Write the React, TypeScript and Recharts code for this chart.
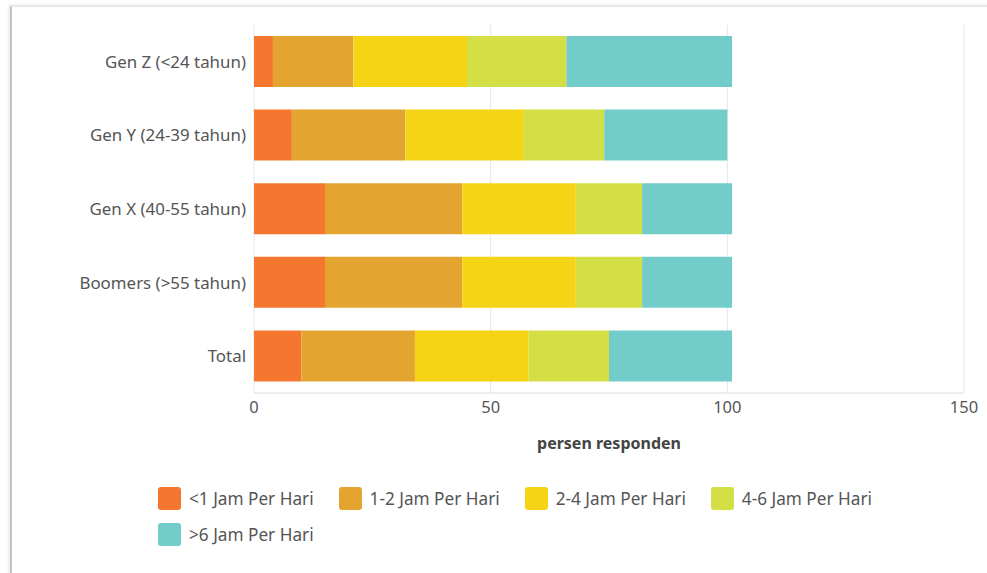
import { Bar, BarChart, CartesianGrid, Legend, XAxis, YAxis } from "recharts";

const categories = ["Gen Z (<24 tahun)", "Gen Y (24-39 tahun)", "Gen X (40-55 tahun)", "Boomers (>55 tahun)", "Total"];
const seriesNames = ["<1 Jam Per Hari", "1-2 Jam Per Hari", "2-4 Jam Per Hari", "4-6 Jam Per Hari", ">6 Jam Per Hari"];
const lessThan1 = [4, 8, 15, 15, 10];
const oneToTwo = [17, 24, 29, 29, 24];
const twoToFour = [24, 25, 24, 24, 24];
const fourToSix = [21, 17, 14, 14, 17];
const moreThan6 = [35, 26, 19, 19, 26];
const xTicks = [0, 50, 100, 150];
const colors = ["#F5772F", "#E3A52F", "#F5D415", "#D3DF45", "#72CDCA"];

const seriesValues = [lessThan1, oneToTwo, twoToFour, fourToSix, moreThan6];
const data = categories.map((name, i) => {
  const row: Record<string, string | number> = { name };
  seriesNames.forEach((s, j) => (row[s] = seriesValues[j][i]));
  return row;
});

const font = "'Noto Sans', 'Open Sans', sans-serif";

function LegendBox({ payload }: any) {
  const items = [...(payload || [])].sort(
    (a: any, b: any) => seriesNames.indexOf(a.value) - seriesNames.indexOf(b.value)
  );
  return (
    <div style={{ display: "flex", flexWrap: "wrap", columnGap: 25, rowGap: 13, fontFamily: font }}>
      {items.map((p: any) => (
        <div key={p.value} style={{ display: "flex", alignItems: "center", height: 23 }}>
          <span style={{ width: 23, height: 23, borderRadius: 3, background: p.color, marginRight: 8 }} />
          <span style={{ fontSize: 17.2, color: "#555" }}>{p.value}</span>
        </div>
      ))}
    </div>
  );
}

export default function App() {
  return (
    <div style={{ position: "fixed", left: 0, top: 0, width: 987, height: 573, background: "#fff", overflow: "hidden" }}>
      <div
        style={{
          position: "absolute",
          left: 10,
          top: 6,
          width: 1100,
          height: 700,
          borderLeft: "2px solid #c4c4c4",
          borderTop: "1px solid #e8e8e8",
          boxShadow: "-1px -1px 3px rgba(0,0,0,0.12)",
        }}
      />
      <div style={{ position: "absolute", left: 0, top: 0 }}>
        <BarChart
          width={987}
          height={573}
          data={data}
          layout="vertical"
          margin={{ top: 25, right: 23, bottom: 27, left: 0 }}
        >
          <CartesianGrid horizontal={false} stroke="#e6e6e6" />
          <XAxis
            type="number"
            domain={[0, 150]}
            ticks={xTicks}
            height={94}
            axisLine={{ stroke: "#dcdcdc" }}
            tickLine={false}
            tickSize={0}
            tickMargin={8}
            tick={{ fill: "#555", fontSize: 16.5, fontFamily: font }}
            label={{
              value: "persen responden",
              position: "insideBottom",
              offset: 38,
              fill: "#444",
              fontSize: 16,
              fontWeight: 700,
              fontFamily: font,
            }}
          />
          <YAxis
            type="category"
            dataKey="name"
            width={254}
            axisLine={false}
            tickLine={false}
            tickSize={0}
            tickMargin={8}
            tick={{ fill: "#555", fontSize: 16.9, fontFamily: font }}
          />
          <Legend
            verticalAlign="bottom"
            content={<LegendBox />}
            wrapperStyle={{ left: 158, width: 760 }}
          />
          {seriesNames.map((s, j) => (
            <Bar key={s} dataKey={s} stackId="a" fill={colors[j]} barSize={51} isAnimationActive={false} />
          ))}
        </BarChart>
      </div>
    </div>
  );
}
